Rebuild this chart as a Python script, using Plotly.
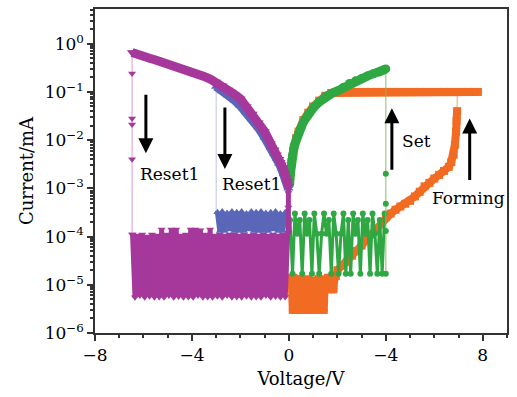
import plotly.graph_objects as go
import math

# ---------------- data ----------------
# Magenta (Reset, sweep to -6.5 V)
mag_col_v = [-0.02, -0.02, -0.02, -0.02]
mag_col_i = [1.2e-4, 4e-4, 8e-4, 1.1e-3]
mag_lrs_v = [-0.02, -0.05, -0.1, -0.15, -0.2, -0.25, -0.3, -0.35, -0.4, -0.5, -0.6, -0.75,
             -1.0, -1.25, -1.5, -1.75, -2.0, -2.25, -2.5, -2.75, -3.0, -3.25, -3.5, -3.75, -4.0,
             -4.25, -4.5, -4.75, -5.0, -5.25, -5.5, -5.75, -6.0, -6.1, -6.2, -6.3, -6.4, -6.47]
mag_lrs_i = [1.1e-3, 1.4e-3, 1.7e-3, 2.0e-3, 2.3e-3, 2.7e-3, 3.1e-3, 3.5e-3, 4.0e-3, 5.0e-3, 6.3e-3, 8.5e-3,
             1.5e-2, 2.3e-2, 3.5e-2, 5.0e-2, 7.2e-2, 9.0e-2, 1.1e-1, 1.35e-1, 1.6e-1, 1.85e-1, 2.1e-1, 2.35e-1, 2.6e-1,
             2.9e-1, 3.2e-1, 3.55e-1, 3.9e-1, 4.2e-1, 4.6e-1, 5.0e-1, 5.4e-1, 5.6e-1, 5.8e-1, 6.2e-1, 6.5e-1, 6.6e-1]
mag_drop_v = [-6.47, -6.47, -6.47, -6.47, -6.47, -6.47]
mag_drop_i = [6.6e-1, 2.4e-1, 2.8e-2, 2.1e-2, 4.0e-3, 1.1e-4]
mag_hrs_v = [-6.45, -6.35, -6.25, -6.15, -6.05, -5.95, -5.85, -5.75, -5.65, -5.55,
             -5.45, -5.35, -5.25, -5.15, -5.05, -4.95, -4.85, -4.75, -4.65, -4.55,
             -4.45, -4.35, -4.25, -4.15, -4.05, -3.95, -3.85, -3.75, -3.65, -3.55,
             -3.45, -3.35, -3.25, -3.15, -3.05, -2.95, -2.85, -2.75, -2.65, -2.55,
             -2.45, -2.35, -2.25, -2.15, -2.05, -1.95, -1.85, -1.75, -1.65, -1.55,
             -1.45, -1.35, -1.25, -1.15, -1.05, -0.95, -0.85, -0.75, -0.65, -0.55,
             -0.45, -0.35, -0.25, -0.15, -0.05]
mag_hrs_i = [1.1e-4, 5.5e-6, 1.05e-4, 6e-6, 1.1e-4, 5.5e-6, 1.0e-4, 5.8e-6, 1.1e-4, 5.5e-6,
             1.05e-4, 5.6e-6, 1.4e-4, 5.5e-6, 1.1e-4, 6e-6, 1.4e-4, 5.5e-6, 1.4e-4, 5.7e-6,
             1.05e-4, 5.5e-6, 1.1e-4, 5.6e-6, 1.4e-4, 5.5e-6, 1.4e-4, 6e-6, 1.35e-4, 5.5e-6,
             1.1e-4, 5.6e-6, 1.4e-4, 5.5e-6, 1.05e-4, 5.8e-6, 1.1e-4, 5.5e-6, 1.05e-4, 6e-6,
             1.1e-4, 5.5e-6, 1.1e-4, 5.6e-6, 1.05e-4, 5.5e-6, 1.1e-4, 5.8e-6, 1.05e-4, 5.5e-6,
             1.1e-4, 5.6e-6, 1.05e-4, 5.5e-6, 1.1e-4, 6e-6, 1.05e-4, 5.5e-6, 1.1e-4, 5.7e-6,
             1.05e-4, 5.5e-6, 1.1e-4, 5.6e-6, 1.1e-4]

# Blue (Reset, sweep to -3 V)
blu_lrs_v = [-0.02, -0.1, -0.2, -0.3, -0.4, -0.5, -0.6, -0.75, -1.0, -1.25, -1.5, -1.75, -2.0,
             -2.25, -2.5, -2.75, -2.9, -3.0]
blu_lrs_i = [1.0e-3, 1.5e-3, 2.0e-3, 2.6e-3, 3.3e-3, 4.2e-3, 5.2e-3, 7.0e-3, 1.15e-2, 1.8e-2, 2.7e-2, 3.8e-2, 5.2e-2,
             6.8e-2, 8.5e-2, 1.05e-1, 1.2e-1, 1.3e-1]
blu_drop_v = [-3.0, -3.0]
blu_drop_i = [1.3e-1, 3.2e-4]
blu_hrs_v = [-2.95, -2.85, -2.75, -2.65, -2.55, -2.45, -2.35, -2.25, -2.15, -2.05,
             -1.95, -1.85, -1.75, -1.65, -1.55, -1.45, -1.35, -1.25, -1.15, -1.05,
             -0.95, -0.85, -0.75, -0.65, -0.55, -0.45, -0.35, -0.25, -0.15, -0.05]
blu_hrs_i = [3.2e-4, 1.3e-4, 3.3e-4, 1.3e-4, 3.1e-4, 1.4e-4, 3.3e-4, 1.3e-4, 3.2e-4, 1.3e-4,
             3.3e-4, 1.3e-4, 3.0e-4, 1.4e-4, 3.3e-4, 1.3e-4, 3.2e-4, 1.3e-4, 3.3e-4, 1.3e-4,
             3.1e-4, 1.3e-4, 3.2e-4, 1.4e-4, 3.3e-4, 1.3e-4, 3.0e-4, 1.3e-4, 3.2e-4, 2.0e-4]

# Green (Set)
grn_hrs_v = [0.05, 0.15, 0.25, 0.35, 0.45, 0.55, 0.65, 0.75, 0.85, 0.95,
             1.05, 1.15, 1.25, 1.35, 1.45, 1.55, 1.65, 1.75, 1.85, 1.95,
             2.05, 2.15, 2.25, 2.35, 2.45, 2.55, 2.65, 2.75, 2.85, 2.95,
             3.05, 3.15, 3.25, 3.35, 3.45, 3.55, 3.65, 3.75, 3.85, 3.95]
grn_hrs_i = [2.2e-4, 1.7e-5, 3.0e-4, 1.15e-4, 2.2e-4, 1.7e-5, 3.0e-4, 1.15e-4, 2.2e-4, 1.7e-5,
             3.0e-4, 1.15e-4, 1.7e-5, 1.15e-4, 3.0e-4, 1.15e-4, 2.2e-4, 1.7e-5, 3.0e-4, 1.15e-4,
             1.7e-5, 1.15e-4, 3.0e-4, 1.7e-5, 2.2e-4, 1.7e-5, 3.0e-4, 1.15e-4, 2.2e-4, 1.7e-5,
             3.0e-4, 1.15e-4, 2.2e-4, 1.7e-5, 3.0e-4, 1.15e-4, 1.7e-5, 2.2e-4, 1.7e-5, 3.0e-4]
grn_set_v = [4.0, 4.0, 4.0, 4.0, 4.0]
grn_set_i = [1.7e-5, 1.3e-4, 4.8e-4, 2.0e-3, 0.3]
grn_lrs_v = [4.0, 3.9, 3.75, 3.5, 3.25, 3.0, 2.75, 2.5, 2.25, 2.0, 1.75, 1.5, 1.25,
             1.0, 0.8, 0.6, 0.5, 0.4, 0.3, 0.25, 0.2, 0.15, 0.1, 0.06, 0.03]
grn_lrs_i = [0.3, 0.28, 0.26, 0.24, 0.215, 0.19, 0.17, 0.15, 0.125, 0.105,
             0.092, 0.08, 0.062, 0.046, 0.034, 0.024, 0.018, 0.014, 0.0105, 8.3e-3, 6.5e-3, 4.8e-3, 3.0e-3,
             2.0e-3, 1.2e-3]

# Orange (Forming)
org_low_v = [0.05, 0.1, 0.15, 0.2, 0.25, 0.3, 0.35, 0.4, 0.45, 0.5,
             0.55, 0.6, 0.65, 0.7, 0.75, 0.8, 0.85, 0.9, 0.95, 1.0,
             1.05, 1.1, 1.15, 1.2, 1.25, 1.3, 1.35, 1.4, 1.45, 1.5,
             1.55, 1.6, 1.65, 1.7, 1.75, 1.8, 1.85, 1.9, 1.95, 2.0]
org_low_i = [1.5e-5, 2.8e-6, 1.4e-5, 2.8e-6, 1.5e-5, 2.8e-6, 1.4e-5, 2.8e-6, 1.4e-5, 2.8e-6,
             1.3e-5, 2.8e-6, 1.4e-5, 2.8e-6, 1.3e-5, 2.8e-6, 1.4e-5, 2.8e-6, 1.3e-5, 2.8e-6,
             1.3e-5, 2.8e-6, 1.4e-5, 2.8e-6, 1.3e-5, 2.8e-6, 1.4e-5, 2.8e-6, 1.3e-5, 2.8e-6,
             1.5e-5, 7.5e-6, 1.5e-5, 7.5e-6, 1.6e-5, 7.5e-6, 1.6e-5, 7.5e-6, 1.8e-5, 1.4e-5]
org_rise_v = [2.0, 2.2, 2.4, 2.6, 2.8, 3.0, 3.2, 3.4, 3.6, 3.8, 4.0, 4.2, 4.4, 4.6, 4.8, 5.0, 5.2, 5.4,
              5.6, 5.8, 6.0, 6.2, 6.4, 6.6, 6.7, 6.8, 6.85, 6.9, 6.92, 6.94]
org_rise_i = [2.0e-5, 2.5e-5, 3.0e-5, 4.0e-5, 5.0e-5, 6.5e-5, 8.5e-5, 1.1e-4, 1.4e-4, 1.9e-4, 2.5e-4, 3.0e-4,
              3.6e-4, 4.2e-4, 4.8e-4, 5.5e-4, 6.8e-4, 8.5e-4, 1.1e-3, 1.3e-3, 1.6e-3, 1.9e-3, 2.3e-3, 2.8e-3,
              3.5e-3, 5.0e-3, 8.0e-3, 1.5e-2, 2.5e-2, 4.0e-2]
org_jump_v = [6.94, 6.95]
org_jump_i = [4.0e-2, 0.1]
org_back_v = [7.8, 7.6, 7.4, 7.2, 7.0, 6.8, 6.6, 6.4, 6.2, 6.0, 5.8, 5.6, 5.4,
              5.2, 5.0, 4.8, 4.6, 4.4, 4.2, 4.0, 3.8, 3.6, 3.4, 3.2, 3.0, 2.8, 2.6, 2.4, 2.2, 2.0,
              1.9, 1.75, 1.5, 1.25, 1.0, 0.8, 0.6, 0.4, 0.3, 0.2, 0.1, 0.05]
org_back_i = [0.1, 0.1, 0.1, 0.1, 0.1, 0.1, 0.1, 0.1, 0.1, 0.1, 0.1, 0.1, 0.1,
              0.1, 0.1, 0.1, 0.1, 0.1, 0.1, 0.1, 0.1, 0.1, 0.1, 0.1, 0.1, 0.1, 0.1, 0.1, 0.1, 0.1,
              0.098, 0.095, 0.083, 0.066, 0.05, 0.037, 0.026, 0.015, 0.011, 7.0e-3, 3.5e-3, 1.5e-3]

x_tick_vals = [-8, -4, 0, 4, 8]
x_tick_text = ["\u22128", "\u22124", "0", "\u22124", "8"]
y_tick_vals = [1e-6, 1e-5, 1e-4, 1e-3, 1e-2, 1e-1, 1e0]
y_tick_text = ["10<sup>\u22126</sup>", "10<sup>\u22125</sup>", "10<sup>\u22124</sup>", "10<sup>\u22123</sup>",
               "10<sup>\u22122</sup>", "10<sup>\u22121</sup>", "10<sup>0</sup>"]

# ---------------- styling ----------------
MAG = "#a6389c"
BLU = "#5a67b9"
GRN = "#2fa843"
ORG = "#f26b22"
FONT = "DejaVu Serif"

fig = go.Figure()

def add(v, i, color, sym, lw, lcolor=None, ms=6):
    fig.add_trace(go.Scatter(
        x=v, y=i, mode="lines+markers",
        line=dict(color=lcolor or color, width=lw),
        marker=dict(color=color, symbol=sym, size=ms, line=dict(width=0)),
        showlegend=False, hoverinfo="skip"))

# orange
add(org_low_v, org_low_i, ORG, "square", 5, ms=5)
add(org_jump_v, org_jump_i, ORG, "square", 1.2, lcolor="rgba(235,160,90,0.8)", ms=4)
add(org_rise_v, org_rise_i, ORG, "square", 8, ms=8)
add(org_back_v, org_back_i, ORG, "square", 8, ms=8)
# green
add(grn_hrs_v, grn_hrs_i, GRN, "circle", 3, ms=6)
add(grn_set_v, grn_set_i, GRN, "circle", 1.2, lcolor="rgba(140,185,90,0.8)", ms=6)
add(grn_lrs_v, grn_lrs_i, GRN, "circle", 9, ms=9)
# blue
add(blu_hrs_v, blu_hrs_i, BLU, "triangle-up", 5, ms=7)
add(blu_drop_v, blu_drop_i, BLU, "triangle-up", 1, lcolor="rgba(175,180,225,0.8)", ms=4)
add(blu_lrs_v, blu_lrs_i, BLU, "triangle-up", 9, ms=9)
# magenta
add(mag_hrs_v, mag_hrs_i, MAG, "triangle-down", 5, ms=7)
add(mag_col_v, mag_col_i, MAG, "triangle-down", 5, ms=7)
add(mag_drop_v, mag_drop_i, MAG, "triangle-down", 1, lcolor="rgba(225,140,205,0.9)", ms=7)
add(mag_lrs_v, mag_lrs_i, MAG, "triangle-down", 9, ms=9)

# arrows
arrows = [(-5.9, 10 ** -2.27, -60), (-2.64, 10 ** -2.6, -63), (4.25, 10 ** -1.34, 63), (7.46, 10 ** -1.55, 63)]
for ax_v, ay_i, off in arrows:
    fig.add_annotation(x=ax_v, y=math.log10(ay_i), xref="x", yref="y", text="", showarrow=True,
                       ax=0, ay=off, arrowhead=2, arrowsize=1.0, arrowwidth=3, arrowcolor="black")

labels = [("Reset1", -6.23, -2.70), ("Reset1", -2.85, -2.91), ("Set", 4.58, -2.02), ("Forming", 5.81, -3.2)]
for t, lx, ly in labels:
    fig.add_annotation(x=lx, y=ly, xref="x", yref="y", text=t, showarrow=False,
                       xanchor="left", yanchor="middle", font=dict(family=FONT, size=17, color="black"))

minor_y = [m * 10 ** e for e in range(-6, 1) for m in range(2, 10)]

fig.update_layout(
    width=517, height=397,
    margin=dict(l=95, r=10, t=7, b=64),
    paper_bgcolor="white", plot_bgcolor="white",
    font=dict(family=FONT, size=17, color="black"),
    xaxis=dict(range=[-8, 9], tickvals=x_tick_vals, ticktext=x_tick_text,
               showgrid=False, zeroline=False, showline=True, mirror=True,
               linecolor="#333", linewidth=1.5, ticks="outside", ticklen=6, tickwidth=1.5,
               tickcolor="#333",
               minor=dict(dtick=1, ticks="outside", ticklen=3, tickcolor="#333", showgrid=False),
               title=dict(text="Voltage/V", font=dict(family=FONT, size=18), standoff=8)),
    yaxis=dict(type="log", range=[-6, 0.72], tickvals=y_tick_vals, ticktext=y_tick_text,
               showgrid=False, zeroline=False, showline=True, mirror=True,
               linecolor="#333", linewidth=1.5, ticks="outside", ticklen=6, tickwidth=1.5,
               tickcolor="#333",
               minor=dict(tickvals=minor_y, ticks="outside", ticklen=3, tickcolor="#333", showgrid=False),
               title=dict(text="Current/mA", font=dict(family=FONT, size=18), standoff=6)),
)

fig.write_html("out.html")
